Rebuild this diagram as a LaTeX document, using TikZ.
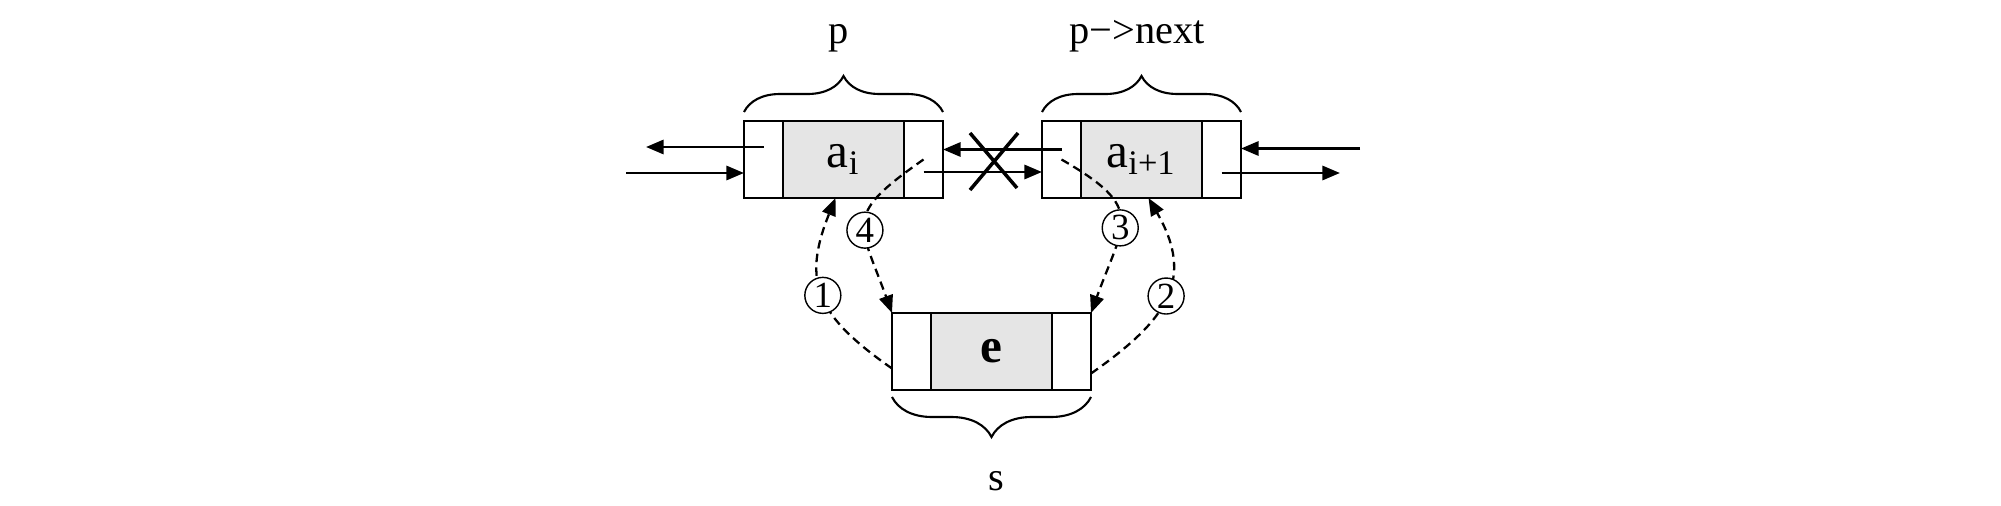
\documentclass[tikz,border=0pt]{standalone}
\usepackage{fontspec}
\setmainfont{Liberation Serif}
\usetikzlibrary{arrows.meta,%
                positioning,%
                decorations.pathreplacing}
\tikzstyle{cell}=[rectangle, draw, line width=0.75pt, outer sep=0pt, inner sep=0pt, minimum height=0.77cm]
\tikzstyle{side}=[cell, minimum width=0.39cm]
\tikzstyle{datacell}=[cell, fill=gray!20, minimum width=1.21cm, font=\fontsize{14}{16}\selectfont]
\tikzstyle{ptr}=[line width=0.8pt, -{Triangle[length=5pt,width=4pt]}]
\tikzstyle{dlink}=[ptr, line width=0.65pt, dash pattern=on 2.4pt off 1.5pt]
\tikzstyle{circnum}=[circle, draw, solid, line width=0.4pt, fill=white, inner sep=0pt, minimum size=0.36cm, font=\fontsize{10.5}{11}\selectfont]
\tikzstyle{brc}=[decorate, decoration={brace, amplitude=0.36cm}, line width=0.6pt]
\tikzstyle{varname}=[anchor=base, font=\fontsize{11.5}{13}\selectfont]

\begin{document}
\begin{tikzpicture}
  \useasboundingbox (0,0) rectangle (20.01,-5.05);
  % the three list nodes
  \node[datacell] (pdata) at (8.435,-1.595) {a\textsubscript{i}};
  \node[side, left=0pt of pdata] (pprior) {};
  \node[side, right=0pt of pdata] (pnext) {};
  \node[datacell] (qdata) at (11.415,-1.595) {a\textsubscript{i+1}};
  \node[side, left=0pt of qdata] (qprior) {};
  \node[side, right=0pt of qdata] (qnext) {};
  \node[datacell] (sdata) at (9.915,-3.515) {\textbf{e}};
  \node[side, left=0pt of sdata] (sprior) {};
  \node[side, right=0pt of sdata] (snext) {};

  \coordinate (leftout) at (6.46,-1.47);
  \coordinate (leftin) at (6.26,-1.73);
  \coordinate (rightin) at (13.60,-1.485);
  \coordinate (rightout) at (13.40,-1.73);

  % old pointers
  \draw[ptr] (pprior.center |- leftout) -- (leftout);
  \draw[ptr] (leftin) -- (leftin -| pprior.west);
  \draw[ptr] ([yshift=0.1cm]qprior.center) -- ([yshift=0.1cm]pnext.east);
  \draw[ptr] ([yshift=-0.125cm]pnext.center) -- ([yshift=-0.125cm]qprior.west);
  \draw[ptr] (rightin) -- (rightin -| qnext.east);
  \draw[ptr] (qnext.center |- rightout) -- (rightout);
  \draw[line width=1pt] (9.70,-1.33) -- (10.17,-1.88) (10.18,-1.33) -- (9.70,-1.90);

  % new pointers
  \draw[dlink] ([yshift=-0.17cm]sprior.west) to[out=145,in=-112,looseness=1.3] node[circnum]{1} ([xshift=-0.08cm]pdata.south);
  \draw[dlink] ([yshift=-0.22cm]snext.east) to[out=35,in=-60,looseness=1.3] node[circnum]{2} ([xshift=0.07cm]qdata.south);
  \draw[dlink] (qprior.center) to[out=-30,in=70,looseness=1.6] node[circnum,pos=0.56]{3} (snext.north east);
  \draw[dlink] (pnext.center) to[out=-145,in=110,looseness=1.6] node[circnum,pos=0.56]{4} (sprior.north west);

  \draw[brc] ([yshift=0.09cm]pprior.north west) -- ([yshift=0.09cm]pnext.north east);
  \draw[brc] ([yshift=0.09cm]qprior.north west) -- ([yshift=0.09cm]qnext.north east);
  \draw[decorate, decoration={brace, amplitude=0.4cm}, line width=0.6pt] ([yshift=-0.07cm]snext.south east) -- ([yshift=-0.07cm]sprior.south west);
  \node[varname] (ptext) at (8.39,-0.43) {p};
  \node[varname] (qtext) at (11.37,-0.43) {p−>next};
  \node[varname] (stext) at (9.96,-4.90) {s};
\end{tikzpicture}
\end{document}
